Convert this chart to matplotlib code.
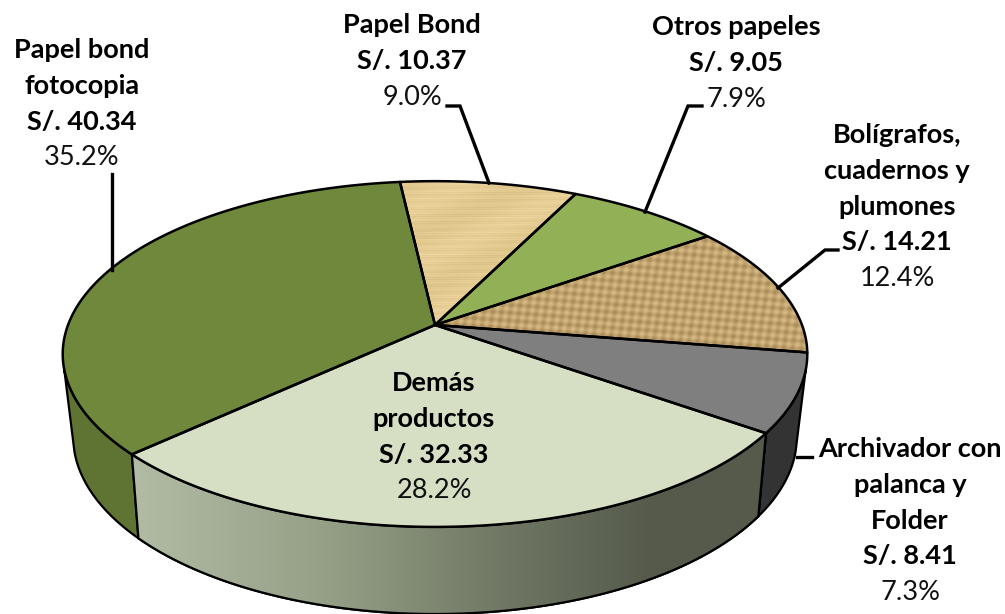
import matplotlib
matplotlib.use('Agg')
import matplotlib.pyplot as plt
from matplotlib.patches import Polygon
import numpy as np

labels = ['Papel Bond', 'Otros papeles', 'Bolígrafos,\ncuadernos y\nplumones', 'Archivador con\npalanca y\nFolder', 'Demás\nproductos', 'Papel bond\nfotocopia']
soles = [10.37, 9.05, 14.21, 8.41, 32.33, 40.34]
pct = ['9.0%', '7.9%', '12.4%', '7.3%', '28.2%', '35.2%']
top_colors = ['#e3cb92', '#92b055', '#c4a66f', '#7f7f7f', '#d6dfc4', '#6f883c']
side_colors = ['#c9b27c', '#7c9647', '#a48b5c', '#333333', '#555a4a', '#5f7332']

# label centre x, baseline y of first line
label_pos = [(412, 33), (736, 35), (897, 143), (910, 457), (434, 391), (82, 58)]
leaders = [
    [(447, 106), (460, 106), (489, 183)],
    [(702, 106), (688, 106), (645, 212)],
    [(838, 250), (825, 250), (778, 288)],
    [(812, 457), (797, 457)],
    None,
    [(112, 174), (112, 270)],
]

# page is drawn in pixels
cx, cy = 435, 325
start = 96.4


def top_xy(t):
    u, v = np.cos(np.radians(t)), np.sin(np.radians(t))
    w = 1 + 0.168 * v
    return np.c_[cx + 367 * u / w, cy - 168 * v / w]


def bottom_xy(t):
    u, v = np.cos(np.radians(t)), np.sin(np.radians(t))
    w = 1 + 0.179 * v
    return np.c_[cx + 356 * u / w, cy + 80 - 171.6 * v / w]


def texture(kind):
    yy, xx = np.mgrid[0:450, 0:800]
    if kind == 0:
        s = 0.5 * np.sin(yy * 2.6) + 0.5 * np.sin(yy * 0.9 + xx * 0.02) + 0.6 * np.sin(xx * 0.05 + yy * 0.11)
        base = np.array([228, 203, 146])
        tex = base + s[..., None] * np.array([7, 7, 9])
    else:
        s = 0.5 * (np.sin((xx + yy * 0.16) * 0.72) + np.sin((yy - xx * 0.07) * 0.8))
        base = np.array([192, 163, 110])
        tex = base + s[..., None] * np.array([24, 24, 22])
    return np.clip(tex, 0, 255).astype(np.uint8)


plt.rcParams['font.family'] = ['Lato', 'DejaVu Sans']
fig = plt.figure(figsize=(10.05, 6.14), dpi=100)
ax = fig.add_axes([0, 0, 1, 1])
ax.axis('off')

total = sum(soles)
edges = start - np.cumsum([0] + soles) / total * 360
t_right, t_left = -15, -165

# side wall first, only the part that faces the viewer
for i in range(len(soles)):
    hi, lo = min(edges[i], t_right), max(edges[i + 1], t_left)
    if hi <= lo:
        continue
    ts = np.linspace(hi, lo, 80)
    poly = np.vstack([top_xy(ts), bottom_xy(ts)[::-1]])
    p = Polygon(poly, closed=True, fc=side_colors[i], ec='black', lw=1.6, joinstyle='round', zorder=2)
    ax.add_patch(p)
    if i == 4:
        # gradient along the big slice
        stops = np.array([[178, 188, 165], [150, 160, 135], [110, 117, 98], [85, 90, 75], [85, 90, 75]]) / 255
        xs = np.linspace(0, 1, 256)
        grad = np.stack([np.interp(xs, [0, 0.3, 0.6, 0.82, 1], stops[:, c]) for c in range(3)], axis=1)[None, ...]
        im = ax.imshow(grad, extent=[poly[:, 0].min(), poly[:, 0].max(), 614, 400], aspect='auto', zorder=2.1)
        im.set_clip_path(p)
        ax.add_patch(Polygon(poly, closed=True, fc='none', ec='black', lw=1.6, zorder=2.2))

# top face
for i in range(len(soles)):
    ts = np.linspace(edges[i], edges[i + 1], 120)
    poly = np.vstack([[[cx, cy]], top_xy(ts)])
    p = Polygon(poly, closed=True, fc=top_colors[i], ec='none', zorder=3)
    ax.add_patch(p)
    if i in (0, 2):
        im = ax.imshow(texture(i), extent=[100, 900, 500, 50], aspect='auto', zorder=3.1, interpolation='bilinear')
        im.set_clip_path(p)
    ax.add_patch(Polygon(poly, closed=True, fc='none', ec='black', lw=1.8, joinstyle='round', zorder=3.2))

# labels
line = 35.8
for i in range(len(soles)):
    x, y = label_pos[i]
    names = labels[i].split('\n') + ['S/. %.2f' % soles[i]]
    for n, s in enumerate(names):
        ax.text(x, y + n * line, s, ha='center', va='baseline', fontsize=19.5, fontweight='bold', color='black', zorder=5)
    ax.text(x, y + len(names) * line, pct[i], ha='center', va='baseline', fontsize=19.5, color='#111111', zorder=5)
    if leaders[i] is not None:
        pts = np.array(leaders[i])
        ax.plot(pts[:, 0], pts[:, 1], color='black', lw=2.4, solid_joinstyle='miter', zorder=4)

ax.set_xlim(0, 1005)
ax.set_ylim(614, 0)
fig.savefig('out.png', dpi=100)
